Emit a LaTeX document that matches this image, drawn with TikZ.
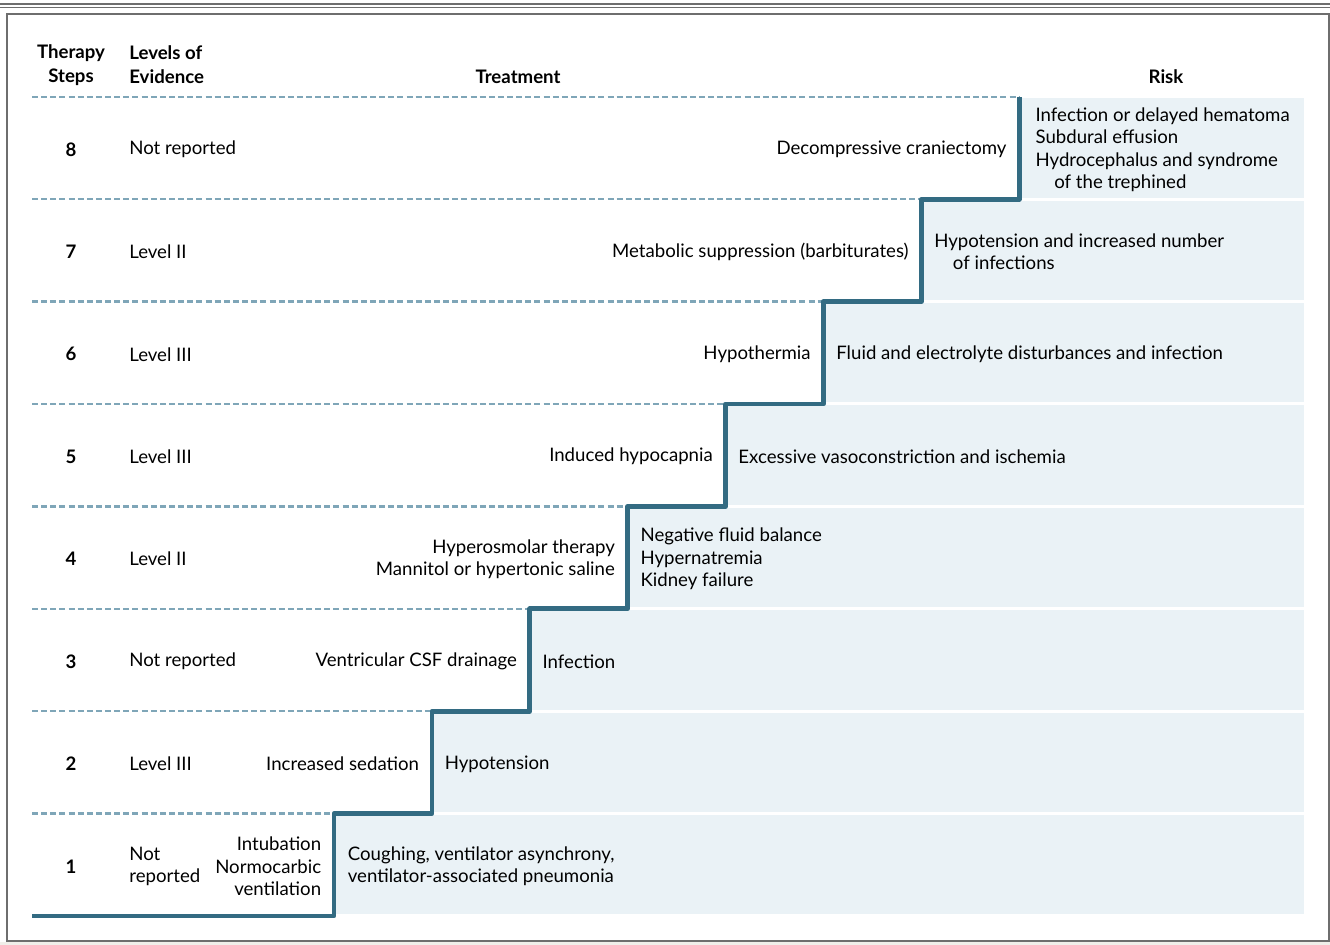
\documentclass[tikz,border=0pt]{standalone}
\usepackage{fontspec}
\setmainfont{Lato}
\usetikzlibrary{positioning, calc}
\definecolor{stairblue}{HTML}{336B82}
\definecolor{dashblue}{HTML}{7FA6B8}
\definecolor{riskfill}{HTML}{EAF2F6}
\definecolor{framegray}{HTML}{6E6E6E}
\definecolor{pagegray}{HTML}{F0EFEA}
\tikzset{
  headtext/.style={
    font=\fontsize{10.6}{13.6}\selectfont\bfseries, inner sep=0pt
  },
  stepnum/.style={
    font=\fontsize{10.6}{12.8}\selectfont\bfseries, inner sep=0pt
  },
  bodytext/.style={
    font=\fontsize{10.6}{12.8}\selectfont, inner sep=0pt, align=left
  },
  treattext/.style={bodytext, align=right},
  stair/.style={
    line width=2.7pt, color=stairblue, line join=round
  },
  dashline/.style={
    line width=1.3pt, color=dashblue, dash pattern=on 3.4pt off 1.8pt
  }
}

\begin{document}
\begin{tikzpicture}[x=0.02cm, y=-0.02cm]
  \useasboundingbox (0,0) rectangle (1330,945);

  % Frame
  \fill[pagegray] (0,942) rectangle (1330,945);
  \draw[framegray, line width=1.2pt] (0,4) -- (1330,4);
  \draw[framegray, line width=0.5pt] (0,7.5) -- (1330,7.5);
  \draw[framegray, line width=1pt] (7,14) rectangle (1329,941);

  % Headers
  \node[headtext, align=center] (hsteps) at (71,65) {Therapy\\Steps};
  \node[headtext, align=left, anchor=west] (hlevels) at (129,65) {Levels of\\Evidence};
  \node[headtext] (htreat) at (518,77) {Treatment};
  \node[headtext] (hrisk) at (1166,77) {Risk};

  % Rows: fills, dashed rules, step coordinates
  \coordinate (levcol) at (129,0);
  \foreach \i in {1,...,8} {
    \pgfmathsetmacro{\xr}{334+(\i-1)*97.9}
    \pgfmathsetmacro{\yt}{916-\i*102.4}
    \pgfmathsetmacro{\yb}{916-(\i-1)*102.4}
    \pgfmathsetmacro{\yc}{916-(\i-0.5)*102.4+1.5}
    \fill[riskfill] (\xr,\yt+1.5) rectangle (1304,\yb-1.5);
    \draw[dashline] (32,\yt) -- (\xr,\yt);
    \coordinate (riser\i) at (\xr,\yb);
    \coordinate (tread\i) at (\xr,\yt);
    \coordinate (mid\i) at (\xr,\yc);
    \node[stepnum] (num\i) at (71,\yc) {\i};
  }

  % Staircase
  \draw[stair] (32,916) \foreach \i in {1,...,8} { -- (riser\i) -- (tread\i) };

  % Levels of evidence
  \node[bodytext, anchor=west] (lev8) at (levcol |- mid8) {Not reported};
  \node[bodytext, anchor=west] (lev7) at (levcol |- mid7) {Level II};
  \node[bodytext, anchor=west] (lev6) at (levcol |- mid6) {Level III};
  \node[bodytext, anchor=west] (lev5) at (levcol |- mid5) {Level III};
  \node[bodytext, anchor=west] (lev4) at (levcol |- mid4) {Level II};
  \node[bodytext, anchor=west] (lev3) at (levcol |- mid3) {Not reported};
  \node[bodytext, anchor=west] (lev2) at (levcol |- mid2) {Level III};
  \node[bodytext, anchor=west] (lev1) at (levcol |- mid1) {Not\\reported};

  % Treatment
  \node[treattext, left=0.25cm of mid8] (treat8) {Decompressive craniectomy};
  \node[treattext, left=0.25cm of mid7] (treat7) {Metabolic suppression (barbiturates)};
  \node[treattext, left=0.25cm of mid6] (treat6) {Hypothermia};
  \node[treattext, left=0.25cm of mid5] (treat5) {Induced hypocapnia};
  \node[treattext, left=0.25cm of mid4] (treat4) {Hyperosmolar therapy\\Mannitol or hypertonic saline};
  \node[treattext, left=0.25cm of mid3] (treat3) {Ventricular CSF drainage};
  \node[treattext, left=0.25cm of mid2] (treat2) {Increased sedation};
  \node[treattext, left=0.25cm of mid1] (treat1) {Intubation\\Normocarbic\\ventilation};

  % Risk
  \node[bodytext, right=0.32cm of mid8] (risk8) {Infection or delayed hematoma\\Subdural effusion\\Hydrocephalus and syndrome\\\hspace*{1em}of the trephined};
  \node[bodytext, right=0.25cm of mid7] (risk7) {Hypotension and increased number\\\hspace*{1em}of infections};
  \node[bodytext, right=0.25cm of mid6] (risk6) {Fluid and electrolyte disturbances and infection};
  \node[bodytext, right=0.25cm of mid5] (risk5) {Excessive vasoconstriction and ischemia};
  \node[bodytext, right=0.25cm of mid4] (risk4) {Negative fluid balance\\Hypernatremia\\Kidney failure};
  \node[bodytext, right=0.25cm of mid3] (risk3) {Infection};
  \node[bodytext, right=0.25cm of mid2] (risk2) {Hypotension};
  \node[bodytext, right=0.27cm of mid1] (risk1) {Coughing, ventilator asynchrony,\\ventilator-associated pneumonia};

\end{tikzpicture}
\end{document}
